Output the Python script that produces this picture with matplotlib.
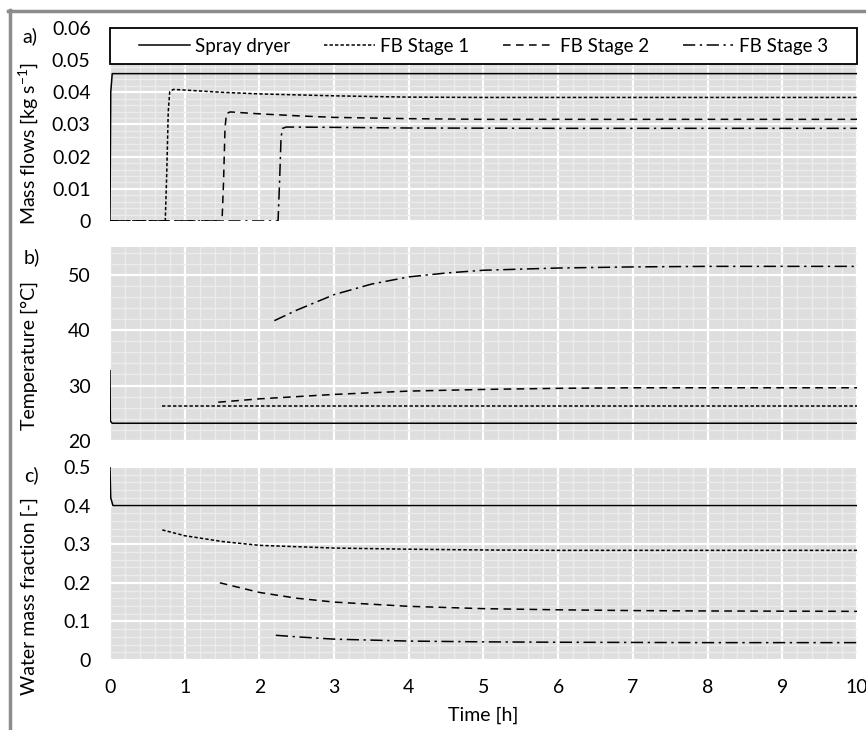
import matplotlib
matplotlib.use("Agg")
import matplotlib.pyplot as plt
from matplotlib.lines import Line2D
from matplotlib.patches import Rectangle
from matplotlib.ticker import MultipleLocator

plt.rcParams['font.family'] = ['Lato', 'DejaVu Sans']
plt.rcParams['font.size'] = 14
plt.rcParams['mathtext.fontset'] = 'custom'
plt.rcParams['mathtext.rm'] = 'Lato'

# ---- data ----
series_names = ["Spray dryer", "FB Stage 1", "FB Stage 2", "FB Stage 3"]

# a) mass flows [kg/s]
t_sd_a = [0, 0.01, 0.03, 10]
m_sd = [0, 0.040, 0.0458, 0.0458]
t_fb1_a = [0, 0.74, 0.76, 0.78, 0.80, 0.85, 1.0, 1.5, 2, 3, 4, 5, 10]
m_fb1 = [0, 0, 0.015, 0.034, 0.0402, 0.0409, 0.0407, 0.0400, 0.0395, 0.0389, 0.0385, 0.0384, 0.0384]
t_fb2_a = [0, 1.50, 1.52, 1.54, 1.56, 1.61, 2, 2.5, 3, 4, 5, 10]
m_fb2 = [0, 0, 0.012, 0.029, 0.0334, 0.0339, 0.0333, 0.0327, 0.0322, 0.0318, 0.0316, 0.0316]
t_fb3_a = [0, 2.25, 2.27, 2.29, 2.31, 2.36, 3, 4, 6, 10]
m_fb3 = [0, 0, 0.012, 0.026, 0.0288, 0.0292, 0.0291, 0.0289, 0.0288, 0.0288]

# b) temperature [degC]
t_sd_b = [0, 0.005, 0.03, 10]
T_sd = [32.7, 23.6, 23.2, 23.2]
t_fb1_b = [0.7, 10]
T_fb1 = [26.35, 26.35]
t_fb2_b = [1.45, 2, 3, 4, 5, 6, 7, 8, 10]
T_fb2 = [27.0, 27.6, 28.4, 29.0, 29.3, 29.5, 29.6, 29.6, 29.6]
t_fb3_b = [2.2, 2.5, 3, 3.5, 4, 4.5, 5, 6, 7, 8, 10]
T_fb3 = [41.7, 43.6, 46.4, 48.3, 49.6, 50.3, 50.8, 51.2, 51.4, 51.5, 51.5]

# c) water mass fraction [-]
t_sd_c = [0, 0.01, 0.04, 10]
w_sd = [0.5, 0.42, 0.4, 0.4]
t_fb1_c = [0.7, 1, 1.5, 2, 3, 4, 5, 6, 8, 10]
w_fb1 = [0.337, 0.322, 0.307, 0.297, 0.290, 0.287, 0.285, 0.284, 0.284, 0.284]
t_fb2_c = [1.47, 2, 2.5, 3, 4, 5, 6, 7, 8, 10]
w_fb2 = [0.200, 0.175, 0.160, 0.150, 0.139, 0.133, 0.130, 0.128, 0.127, 0.126]
t_fb3_c = [2.22, 2.5, 3, 4, 5, 6, 8, 10]
w_fb3 = [0.064, 0.060, 0.054, 0.049, 0.047, 0.046, 0.045, 0.045]

x_ticks = list(range(0, 11))
a_ticks = [0, 0.01, 0.02, 0.03, 0.04, 0.05, 0.06]
a_labels = ["0", "0.01", "0.02", "0.03", "0.04", "0.05", "0.06"]
b_ticks = [20, 30, 40, 50]
c_ticks = [0, 0.1, 0.2, 0.3, 0.4, 0.5]
c_labels = ["0", "0.1", "0.2", "0.3", "0.4", "0.5"]

styles = ['-', (0, (2.2, 1.4)), (0, (5, 3.5)), (0, (8, 3, 1.5, 3))]
LW = 1.1


def style_axes(ax, minor_y):
    ax.set_facecolor('#dedede')
    for s in ax.spines.values():
        s.set_visible(False)
    ax.set_xlim(0, 10)
    ax.xaxis.set_minor_locator(MultipleLocator(0.2))
    ax.yaxis.set_minor_locator(MultipleLocator(minor_y))
    ax.set_axisbelow(True)
    ax.grid(which='minor', color='#ececec', lw=1.0)
    ax.grid(which='major', color='white', lw=1.6)
    ax.tick_params(which='both', length=0, pad=14)


fig = plt.figure(figsize=(8.66, 7.30), dpi=100)
L, W = 0.127, 0.8626
ax_a = fig.add_axes([L, 0.6973, W, 0.2644])
ax_b = fig.add_axes([L, 0.3959, W, 0.2658])
ax_c = fig.add_axes([L, 0.0959, W, 0.2644])

# panel a
style_axes(ax_a, 0.002)
for t, v, ls, name in zip([t_sd_a, t_fb1_a, t_fb2_a, t_fb3_a], [m_sd, m_fb1, m_fb2, m_fb3], styles, series_names):
    ax_a.plot(t, v, color='black', lw=LW, ls=ls, label=name)
ax_a.set_ylim(0, 0.06)
ax_a.set_yticks(a_ticks)
ax_a.set_yticklabels(a_labels)
ax_a.set_xticks(x_ticks)
ax_a.set_xticklabels([])
ax_a.add_patch(Rectangle((0, 0.813), 1, 0.187, transform=ax_a.transAxes,
                         facecolor='white', edgecolor='black', lw=1.3, zorder=3, clip_on=False))
ax_a.legend(loc='center', bbox_to_anchor=(0.5, 0.906), ncol=4, frameon=False,
            handlelength=2.7, handletextpad=0.3, columnspacing=1.8, fontsize=13.5)

# panel b
style_axes(ax_b, 2)
for t, v, ls in zip([t_sd_b, t_fb1_b, t_fb2_b, t_fb3_b], [T_sd, T_fb1, T_fb2, T_fb3], styles):
    ax_b.plot(t, v, color='black', lw=LW, ls=ls)
ax_b.set_ylim(20, 55)
ax_b.set_yticks(b_ticks)
ax_b.set_xticks(x_ticks)
ax_b.set_xticklabels([])

# panel c
style_axes(ax_c, 0.02)
for t, v, ls in zip([t_sd_c, t_fb1_c, t_fb2_c, t_fb3_c], [w_sd, w_fb1, w_fb2, w_fb3], styles):
    ax_c.plot(t, v, color='black', lw=LW, ls=ls)
ax_c.set_ylim(0, 0.5)
ax_c.set_yticks(c_ticks)
ax_c.set_yticklabels(c_labels)
ax_c.set_xticks(x_ticks)
ax_c.set_xlabel("Time [h]", labelpad=7)

# y labels and panel letters
fig.text(29 / 866, 1 - 143 / 730, "Mass flows [kg s$^{-1}$]", rotation=90, ha='center', va='center')
fig.text(29 / 866, 1 - 356 / 730, "Temperature [°C]", rotation=90, ha='center', va='center')
fig.text(29 / 866, 1 - 596 / 730, "Water mass fraction [-]", rotation=90, ha='center', va='center')
fig.text(30 / 866, 1 - 36 / 730, "a)", ha='center', va='center')
fig.text(32 / 866, 1 - 257 / 730, "b)", ha='center', va='center')
fig.text(31 / 866, 1 - 475 / 730, "c)", ha='center', va='center')

# outer grey frame (top and left edges visible)
fig.add_artist(Line2D([9.5 / 866, 9.5 / 866], [0, 1 - 10 / 730], color='#8c8c8c', lw=2.5))
fig.add_artist(Line2D([8 / 866, 1], [1 - 10.5 / 730, 1 - 10.5 / 730], color='#8c8c8c', lw=2.5))

fig.savefig("out.png", dpi=100)
